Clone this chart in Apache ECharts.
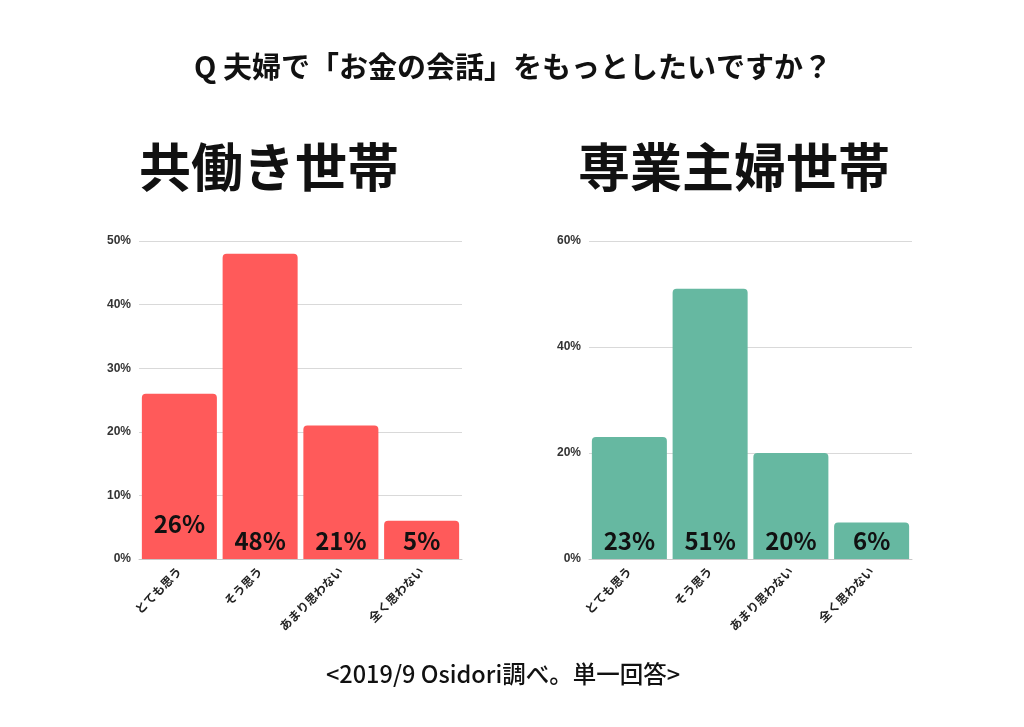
<!DOCTYPE html>
<html><head><meta charset="utf-8">
<script src="https://cdn.jsdelivr.net/npm/echarts@6/dist/echarts.min.js"></script>
<style>html,body{margin:0;padding:0;background:#fff}#c{width:1024px;height:727px}</style>
</head><body><div id="c"></div>
<script>
const categories = ['とても思う', 'そう思う', 'あまり思わない', '全く思わない'];
// bar heights as drawn in the picture
const dualIncome = [26, 48, 21, 6];
const housewife = [23, 51, 20, 6.9];
// label texts as printed on the bars
const dualIncomeLabels = ['26%', '48%', '21%', '5%'];
const housewifeLabels = ['23%', '51%', '20%', '6%'];
const leftTicks = [0, 10, 20, 30, 40, 50];
const rightTicks = [0, 20, 40, 60];
const mainTitle = 'Q 夫婦で「お金の会話」をもっとしたいですか？';
const leftTitle = '共働き世帯';
const rightTitle = '専業主婦世帯';
const footer = '<2019/9 Osidori調べ。単一回答>';

const FONT = '"Noto Sans CJK JP", "Noto Sans", sans-serif';
const chart = echarts.init(document.getElementById('c'), null, {renderer: 'canvas'});

function xAxis(gi) {
  return {
    type: 'category', gridIndex: gi, data: categories,
    axisLine: {show: true, lineStyle: {color: '#c8c8c8', width: 1}},
    axisTick: {show: false},
    axisLabel: {rotate: 45, fontSize: 12, fontWeight: 'bold', color: '#222', fontFamily: FONT, margin: 10, interval: 0}
  };
}
function yAxis(gi, ticks) {
  return {
    type: 'value', gridIndex: gi, min: ticks[0], max: ticks[ticks.length - 1],
    interval: ticks[1] - ticks[0],
    axisLine: {show: false}, axisTick: {show: false},
    splitLine: {lineStyle: {color: '#d9d9d9', width: 1}},
    axisLabel: {formatter: '{value}%', fontSize: 12, fontWeight: 'bold', color: '#333', fontFamily: '"Liberation Sans", Arial, sans-serif', margin: 8}
  };
}
function series(gi, data, labels, color) {
  return {
    type: 'bar', xAxisIndex: gi, yAxisIndex: gi,
    data: data.map((v, i) => ({
      value: v,
      label: (gi === 0 && i === 0) ? {offset: [0, -17]} : {}
    })),
    barCategoryGap: '7.1%',
    itemStyle: {color: color, borderRadius: [4, 4, 0, 0]},
    label: {show: true, position: 'insideBottom', distance: 6,
      formatter: p => labels[p.dataIndex],
      fontSize: 24, fontWeight: 'bold', color: '#111', fontFamily: FONT},
    silent: true
  };
}

chart.setOption({
  backgroundColor: '#ffffff',
  animation: false,
  title: [
    {text: mainTitle, left: 508, textAlign: 'center', top: 47, textStyle: {fontSize: 29, fontWeight: 'bold', color: '#111', fontFamily: FONT}},
    {text: leftTitle, left: 264, textAlign: 'center', top: 136, textStyle: {fontSize: 52, fontWeight: 'bold', color: '#111', fontFamily: FONT}},
    {text: rightTitle, left: 729, textAlign: 'center', top: 136, textStyle: {fontSize: 52, fontWeight: 'bold', color: '#111', fontFamily: FONT}},
    {text: footer, left: 498, textAlign: 'center', top: 657, textStyle: {fontSize: 23.5, fontWeight: 500, color: '#111', fontFamily: FONT}}
  ],
  grid: [
    {left: 139, right: 562, top: 241, bottom: 168},
    {left: 589, right: 112, top: 241, bottom: 168}
  ],
  xAxis: [xAxis(0), xAxis(1)],
  yAxis: [yAxis(0, leftTicks), yAxis(1, rightTicks)],
  series: [series(0, dualIncome, dualIncomeLabels, '#FF5A5A'), series(1, housewife, housewifeLabels, '#66B8A1')]
});
</script></body></html>
